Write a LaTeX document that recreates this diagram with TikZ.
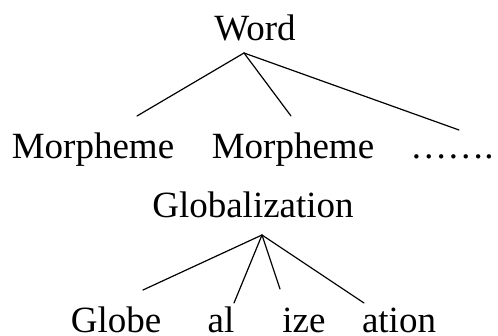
\documentclass[tikz,border=0pt]{standalone}
\usepackage{fontspec}
\setmainfont{Liberation Serif}
\begin{document}
\begin{tikzpicture}[x=1pt,y=1pt,
  lbl/.style={anchor=base,inner sep=0pt,font=\fontsize{37}{42}\selectfont},
  edge/.style={line width=1.2pt,line cap=round}]
\useasboundingbox (0,0) rectangle (498,336);
\node[lbl] (word) at (255,295) {Word};
\node[lbl] (m1) at (93,177) {Morpheme};
\node[lbl] (m2) at (293,177) {Morpheme};
\node[lbl] (dots) at (452,177) {…….};
\node[lbl] (glob) at (253,118.5) {Globalization};
\node[lbl] (g1) at (116,3) {Globe};
\node[lbl] (g2) at (221,3) {al};
\node[lbl] (g3) at (304,3) {ize};
\node[lbl] (g4) at (399,3) {ation};
\coordinate (wa) at (244,283);
\coordinate (m1t) at (137,220);
\coordinate (m2t) at (291,220);
\coordinate (dt) at (459,206);
\coordinate (ga) at (262,101);
\coordinate (g1t) at (143,46);
\coordinate (g2t) at (234,33);
\coordinate (g3t) at (280,47);
\coordinate (g4t) at (364,33);
\draw[edge] (wa) -- (m1t);
\draw[edge] (wa) -- (m2t);
\draw[edge] (wa) -- (dt);
\draw[edge] (ga) -- (g1t);
\draw[edge] (ga) -- (g2t);
\draw[edge] (ga) -- (g3t);
\draw[edge] (ga) -- (g4t);
\end{tikzpicture}
\end{document}
